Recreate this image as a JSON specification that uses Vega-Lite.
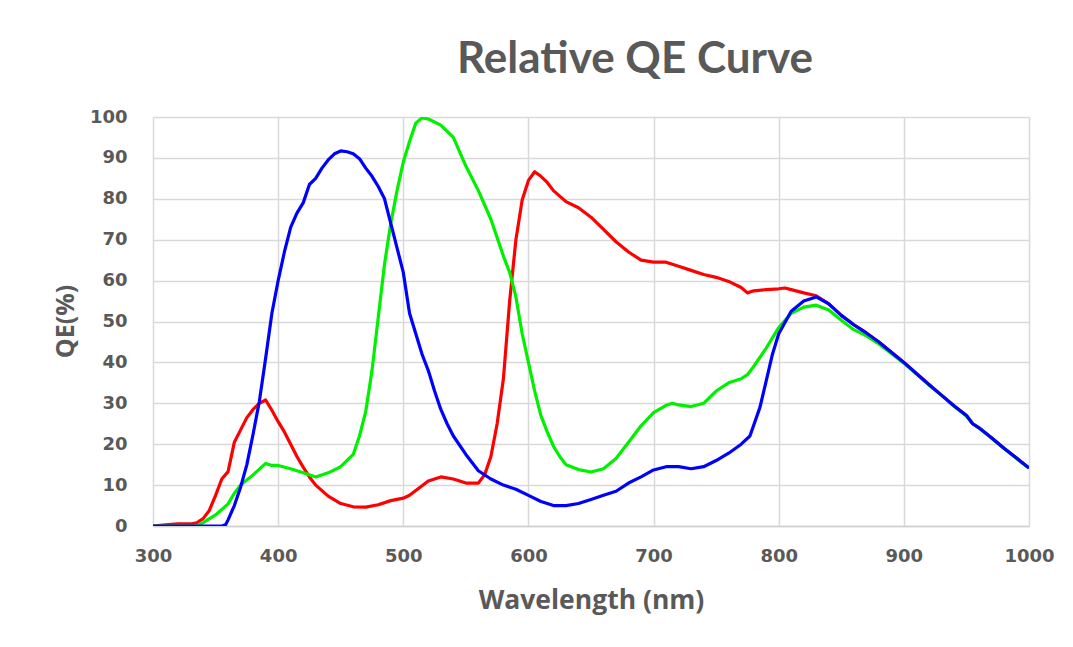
{
  "$schema": "https://vega.github.io/schema/vega-lite/v6.json",
  "width": 876,
  "height": 409,
  "autosize": "none",
  "padding": {"left": 153, "top": 117, "right": 44, "bottom": 121},
  "background": "white",
  "title": {"text": "Relative QE Curve", "font": "Lato", "fontSize": 44, "fontWeight": "bold", "color": "#595959", "anchor": "middle", "dx": 44, "dy": 54, "baseline": "alphabetic", "offset": 45, "frame": "group"},
  "datasets": {
    "R": [[300,0],[310,0.3],[320,0.5],[330,0.5],[335,0.8],[340,1.8],[345,3.8],[350,7.5],[355,11.5],[360,13.3],[365,20.5],[370,23.5],[375,26.5],[380,28.5],[385,30],[390,30.8],[395,28.3],[400,25.5],[405,23],[410,20],[415,17],[420,14.4],[425,12],[430,10],[440,7.3],[450,5.5],[460,4.7],[470,4.6],[480,5.2],[490,6.2],[500,6.8],[505,7.5],[510,8.7],[520,11],[530,12],[540,11.5],[550,10.5],[560,10.5],[565,12.5],[570,17],[575,25],[580,36],[585,55],[590,70],[595,79.7],[600,84.5],[605,86.6],[610,85.5],[615,84],[620,82],[630,79.3],[640,77.8],[650,75.5],[660,72.5],[670,69.5],[680,67],[690,65],[700,64.5],[710,64.5],[720,63.5],[730,62.5],[740,61.5],[750,60.8],[760,59.8],[770,58.3],[775,57],[780,57.5],[790,57.8],[800,58],[805,58.2],[810,57.8],[820,57],[830,56.3],[840,54.3],[850,51.5],[860,49.2],[870,47.2],[880,45],[890,42.5],[900,40],[910,37.3],[920,34.6],[930,32],[940,29.4],[950,27],[955,25],[960,24],[970,21.6],[980,19],[990,16.6],[1000,14.2]],
    "G": [[300,0],[335,0],[340,0.8],[350,2.7],[360,5.4],[365,8],[370,10],[380,12.5],[390,15.3],[395,14.8],[400,14.8],[410,14],[420,13],[430,12],[440,13],[450,14.5],[460,17.5],[465,22],[470,28],[475,38],[480,51],[485,64],[490,74],[495,82],[500,89],[505,94],[510,98.5],[515,99.8],[520,99.5],[530,98],[540,95],[550,88],[560,82],[570,75],[580,66],[585,62],[590,56],[595,47],[600,40],[605,33],[610,27],[615,23],[620,19.5],[625,17],[630,15],[640,13.8],[650,13.2],[660,14],[670,16.5],[680,20.5],[690,24.5],[700,27.7],[710,29.5],[715,30],[720,29.6],[730,29.2],[740,30],[750,33],[760,35],[770,36],[775,37],[780,39],[790,43.5],[800,48.5],[810,52],[820,53.5],[830,54],[840,52.8],[850,50.3],[860,48],[870,46.5],[880,44.5],[890,42.2],[900,39.8],[910,37.2],[920,34.5],[930,32],[940,29.3],[950,26.9],[955,25],[960,24],[970,21.5],[980,19],[990,16.5],[1000,14.2]],
    "B": [[300,0],[355,0],[358,0.3],[360,1.5],[365,5],[370,9.5],[375,15],[380,22.5],[385,30.5],[390,41],[395,52],[400,60],[405,67],[410,73],[415,76.5],[420,79],[425,83.5],[430,85],[435,87.5],[440,89.5],[445,91],[450,91.7],[455,91.5],[460,91],[465,89.8],[470,87.5],[475,85.5],[480,83],[485,80],[490,74],[495,68],[500,62],[505,52],[510,47],[515,42],[520,38],[525,33],[530,28.5],[535,25],[540,22],[550,17.5],[560,13.5],[570,11.5],[580,10],[590,9],[600,7.5],[610,6],[620,5],[630,5],[640,5.5],[650,6.5],[660,7.5],[670,8.5],[680,10.5],[690,12],[700,13.7],[710,14.5],[720,14.5],[730,14],[740,14.5],[750,16],[760,17.8],[770,20],[777,22],[785,29],[790,35.5],[795,42],[800,47],[810,52.5],[820,55],[830,56],[840,54.3],[850,51.5],[860,49.2],[870,47.2],[880,45],[890,42.5],[900,40],[910,37.3],[920,34.6],[930,32],[940,29.4],[950,27],[955,25],[960,24],[970,21.6],[980,19],[990,16.6],[1000,14.2]]
  },
  "encoding": {
    "x": {"field": "nm", "type": "quantitative", "scale": {"domain": [300, 1000], "nice": false, "zero": false},
      "axis": {"title": "Wavelength (nm)", "format": "d", "values": [300,400,500,600,700,800,900,1000], "grid": true, "gridColor": "#d9d9d9", "gridWidth": 1.5, "domainColor": "#d0d0d0", "domainWidth": 1.5, "ticks": false, "tickSize": 0, "labelPadding": 21, "labelFont": "DejaVu Sans", "labelFontWeight": "bold", "labelFontSize": 18, "labelColor": "#595959", "labelFlush": false, "titleFont": "Open Sans", "titleFontWeight": "bold", "titleFontSize": 26.5, "titleColor": "#595959", "titleX": 438, "titleY": 74, "titleBaseline": "middle", "titleAlign": "center"}},
    "y": {"field": "qe", "type": "quantitative", "scale": {"domain": [0, 100], "nice": false},
      "axis": {"title": "QE(%)", "values": [0,10,20,30,40,50,60,70,80,90,100], "grid": true, "gridColor": "#d9d9d9", "gridWidth": 1.5, "domain": false, "ticks": false, "tickSize": 0, "labelPadding": 26, "labelFont": "DejaVu Sans", "labelFontWeight": "bold", "labelFontSize": 18, "labelColor": "#595959", "titleFont": "Open Sans", "titleFontWeight": "bold", "titleFontSize": 25, "titleColor": "#595959", "titleX": -88, "titleY": 204, "titleBaseline": "middle", "titleAlign": "center", "titleAngle": -90}}
  },
  "layer": [
    {"data": {"name": "R"}, "transform": [{"calculate": "datum[0]", "as": "nm"}, {"calculate": "datum[1]", "as": "qe"}], "mark": {"type": "line", "color": "#ff0000", "strokeWidth": 3.2, "strokeJoin": "round", "clip": true}},
    {"data": {"name": "G"}, "transform": [{"calculate": "datum[0]", "as": "nm"}, {"calculate": "datum[1]", "as": "qe"}], "mark": {"type": "line", "color": "#00f000", "strokeWidth": 3.2, "strokeJoin": "round", "clip": true}},
    {"data": {"name": "B"}, "transform": [{"calculate": "datum[0]", "as": "nm"}, {"calculate": "datum[1]", "as": "qe"}], "mark": {"type": "line", "color": "#0000ff", "strokeWidth": 3.2, "strokeJoin": "round", "clip": true}}
  ],
  "config": {"view": {"stroke": null}}
}
